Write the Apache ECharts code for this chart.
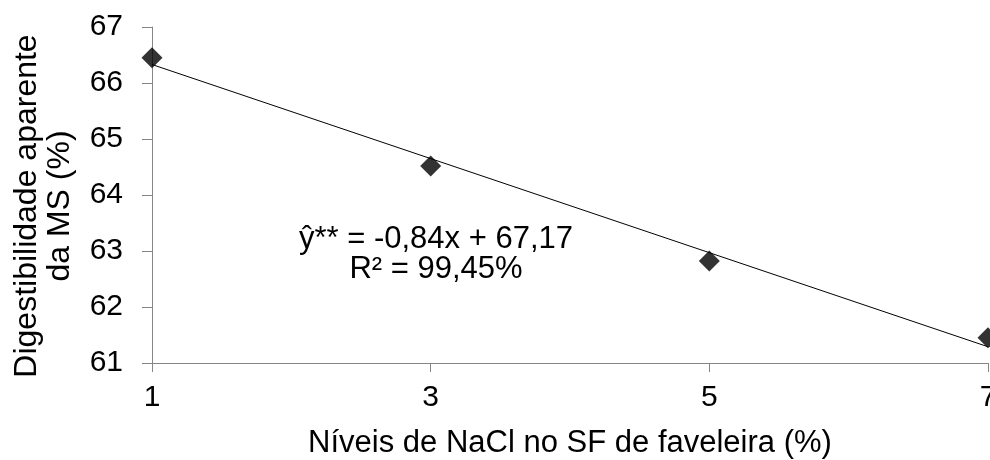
<!DOCTYPE html>
<html><head><meta charset="utf-8">
<script src="https://cdn.jsdelivr.net/npm/echarts@6/dist/echarts.min.js"></script>
<style>html,body{margin:0;padding:0;background:#fff;overflow:hidden}#c{width:990px;height:460px}</style>
</head><body><div id="c"></div>
<script>
var xLevels = [1, 3, 5, 7];
var yValues = [66.45, 64.52, 62.82, 61.45];
var slope = -0.84, intercept = 67.17;
var trendX = [1, 7];
var eqLine1 = 'ŷ** = -0,84x + 67,17';
var eqLine2 = 'R² = 99,45%';
var xTitle = 'Níveis de NaCl no SF de faveleira (%)';
var yTitle = 'Digestibilidade aparente\nda MS (%)';

var chart = echarts.init(document.getElementById('c'));
var font = 'Liberation Sans, Arial, sans-serif';
chart.setOption({
  animation: false,
  grid: {left: 152, right: 2, top: 27, bottom: 97, containLabel: false, outerBoundsMode: 'none'},
  xAxis: {
    type: 'value', min: 1, max: 7, interval: 2,
    axisLine: {show: true, lineStyle: {color: '#868686', width: 1}},
    axisTick: {show: true, length: 9, lineStyle: {color: '#868686'}},
    axisLabel: {color: '#000', fontSize: 30, fontFamily: font, margin: 20},
    splitLine: {show: false}
  },
  yAxis: {
    type: 'value', min: 61, max: 67, interval: 1,
    axisLine: {show: true, lineStyle: {color: '#868686', width: 1}},
    axisTick: {show: true, length: 10, lineStyle: {color: '#868686'}},
    axisLabel: {color: '#000', fontSize: 30, fontFamily: font, margin: 29},
    splitLine: {show: false}
  },
  graphic: [
    {type: 'text', x: 44, y: 206, rotation: Math.PI / 2,
     style: {text: yTitle, fontSize: 32, fontFamily: font, fill: '#000', textAlign: 'center', textVerticalAlign: 'middle', lineHeight: 33}},
    {type: 'text', x: 570, y: 443,
     style: {text: xTitle, fontSize: 31, fontFamily: font, fill: '#000', textAlign: 'center', textVerticalAlign: 'middle'}},
    {type: 'text', x: 436, y: 254,
     style: {text: eqLine1 + '\n' + eqLine2, fontSize: 31, fontFamily: font, fill: '#000', textAlign: 'center', textVerticalAlign: 'middle', lineHeight: 30}}
  ],
  series: [
    {type: 'line', data: trendX.map(function (x) { return [x, slope * x + intercept]; }),
     showSymbol: false, symbol: 'none', lineStyle: {color: '#000', width: 1}, z: 2},
    {type: 'scatter', data: xLevels.map(function (x, i) { return [x, yValues[i]]; }),
     symbol: 'diamond', symbolSize: [21, 21], itemStyle: {color: '#000'}, z: 3}
  ]
});
</script></body></html>
